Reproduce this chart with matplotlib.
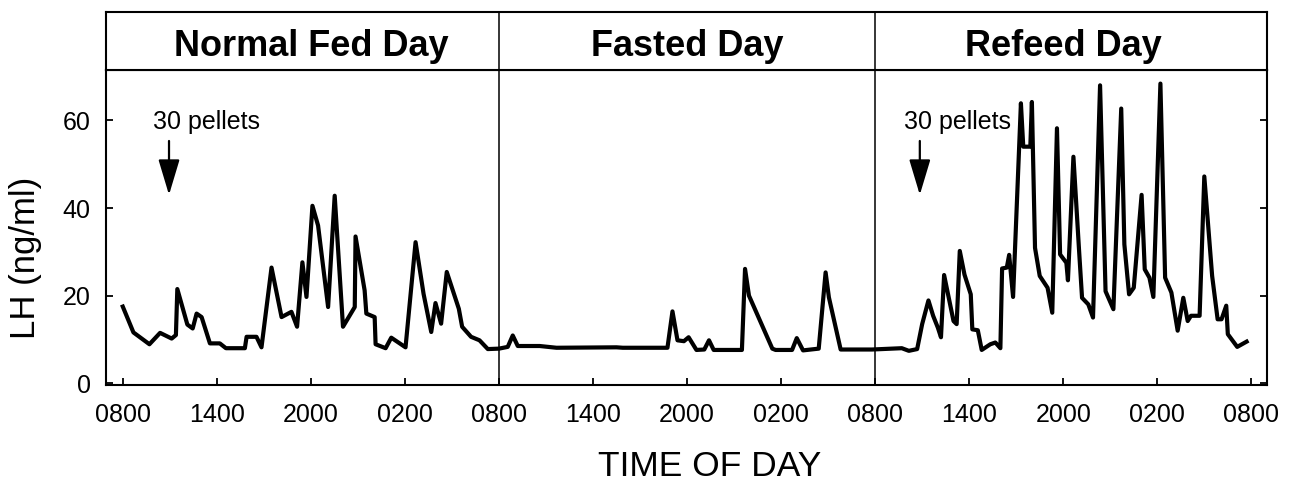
import numpy as np
import matplotlib.pyplot as plt

plt.rcParams['font.family'] = ['Liberation Sans', 'DejaVu Sans']

# hours after 0800 on the normal fed day, LH in ng/ml
fed_hours = [0.0, 0.68, 1.7, 2.38, 3.12, 3.39, 3.48, 4.12, 4.46, 4.71, 5.03, 5.56, 6.19, 6.58,
             7.79, 7.9, 8.53, 8.85, 9.49, 10.13, 10.76, 11.12, 11.46, 11.72, 12.1, 12.46, 13.1,
             13.52, 14.05, 14.8, 14.85, 15.43, 15.54, 16.07, 16.13, 16.77, 17.13, 18.04, 18.68,
             19.19, 19.53, 19.68, 19.95, 20.31, 20.67, 21.44, 21.65, 22.22, 22.76, 23.29, 24.0]
fed_lh = [17.5, 11.6, 8.9, 11.5, 10.2, 11.0, 21.5, 13.4, 12.5, 15.9, 15.1, 9.1, 9.1, 8.0,
          8.0, 10.6, 10.6, 8.2, 26.4, 15.1, 16.3, 12.9, 27.6, 19.7, 40.5, 36.0, 17.4,
          42.8, 12.9, 17.4, 33.5, 21.2, 15.9, 15.1, 8.9, 8.0, 10.4, 8.2, 32.2,
          20.4, 14.4, 11.7, 18.3, 13.6, 25.4, 17.0, 12.9, 10.6, 9.8, 7.8, 7.9]

fasted_hours = [24.56, 24.88, 25.2, 26.6, 27.67, 31.5, 31.9, 34.75, 35.07, 35.39, 35.8, 36.1,
                36.6, 37.1, 37.4, 37.7, 39.5, 39.7, 39.95, 41.44, 41.65, 42.7, 43.0, 43.4,
                44.4, 44.84, 45.05, 45.8, 47.8]
fasted_lh = [8.3, 10.9, 8.5, 8.5, 8.1, 8.2, 8.1, 8.1, 16.4, 9.8, 9.6, 10.5,
             7.6, 7.7, 9.8, 7.6, 7.6, 26.1, 20.0, 7.9, 7.6, 7.6, 10.3, 7.5,
             7.9, 25.3, 19.6, 7.7, 7.7]

refeed_hours = [49.7, 50.15, 50.68, 51.0, 51.4, 51.7, 52.0, 52.2, 52.4, 52.7, 53.0, 53.2, 53.4,
                53.7, 54.1, 54.2, 54.55, 54.8, 55.35, 55.67, 55.99, 56.1, 56.4, 56.55, 56.8,
                57.3, 57.45, 57.9, 58.0, 58.2, 58.5, 59.0, 59.3, 59.6, 59.8, 60.2, 60.3, 60.65,
                61.0, 61.2, 61.6, 61.9, 62.35, 62.7, 63.2, 63.7, 63.9, 64.2, 64.5, 65.0, 65.2,
                65.5, 65.75, 66.2, 66.5, 66.9, 67.3, 67.66, 67.94, 68.15, 68.7, 69.0, 69.5,
                69.85, 70.1, 70.4, 70.5, 71.1, 71.7]
refeed_lh = [8.0, 7.4, 7.8, 13.5, 18.9, 15.4, 12.7, 10.5, 24.7, 19.5, 14.2, 13.5, 30.2,
             24.8, 20.3, 12.3, 12.1, 7.6, 8.9, 9.3, 8.0, 26.2, 26.4, 29.3, 19.7,
             63.9, 54.0, 54.0, 64.2, 30.9, 24.5, 21.8, 16.1, 58.2, 29.4, 27.5, 23.5, 51.7,
             30.9, 19.5, 18.0, 15.0, 68.0, 21.0, 16.9, 62.7, 31.7, 20.3, 21.8, 43.0, 26.0,
             24.1, 19.7, 68.4, 24.1, 20.7, 12.0, 19.5, 14.2, 15.4, 15.4, 47.2, 24.5,
             14.6, 14.6, 17.7, 11.2, 8.3, 9.5]

day_names = ['Normal Fed Day', 'Fasted Day', 'Refeed Day']
tick_hours = np.arange(0, 73, 6)
tick_labels = ['0800', '1400', '2000', '0200'] * 3 + ['0800']
feed_hours = [2.95, 50.85]   # 30 pellets given

fig = plt.figure(figsize=(13.03, 4.82), dpi=100)

left, right = 106 / 1303, 1267 / 1303
ax = fig.add_axes([left, 1 - 385 / 482, right - left, (385 - 70) / 482])
hdr = fig.add_axes([left, 1 - 70 / 482, right - left, (70 - 12) / 482], sharex=ax)

hours = fed_hours + fasted_hours + refeed_hours
lh = fed_lh + fasted_lh + refeed_lh
ax.plot(hours, lh, color='black', lw=3.0)

ax.set_xlim(-1.07, 73)
ax.set_ylim(-0.4, 71.5)
for d in [24, 48]:
    ax.axvline(d, color='black', lw=1.1)
    hdr.axvline(d, color='black', lw=1.1)

ax.set_xticks(tick_hours)
ax.set_xticklabels(tick_labels)
ax.set_yticks([0, 20, 40, 60])
ax.tick_params(axis='both', direction='in', length=5, width=1.3, labelsize=18)
ax.tick_params(axis='x', pad=13)
ax.tick_params(axis='y', pad=11, right=True)
for s in ax.spines.values():
    s.set_linewidth(1.5)

for x0 in feed_hours:
    ax.text(x0 - 1.0, 58, '30 pellets', fontsize=18, ha='left', va='baseline')
    ax.annotate('', xy=(x0, 43.0), xytext=(x0, 55.3),
                arrowprops=dict(arrowstyle='-|>,head_length=1.0,head_width=0.3',
                                mutation_scale=22, lw=1.6, color='black',
                                shrinkA=0, shrinkB=0))

hdr.set_ylim(0, 1)
hdr.tick_params(left=False, bottom=False, labelleft=False, labelbottom=False)
for s in hdr.spines.values():
    s.set_linewidth(1.5)
for i, name in enumerate(day_names):
    hdr.text(12 + 24 * i, 0.25, name, fontsize=26, fontweight='bold',
             ha='center', va='baseline')

fig.text(26 / 1303, 1 - 258 / 482, 'LH (ng/ml)', rotation=90, fontsize=25,
         ha='center', va='center')
fig.text(710 / 1303, 1 - 476 / 482, 'TIME OF DAY', fontsize=25.5,
         ha='center', va='baseline')

fig.savefig('out.png', dpi=100)
